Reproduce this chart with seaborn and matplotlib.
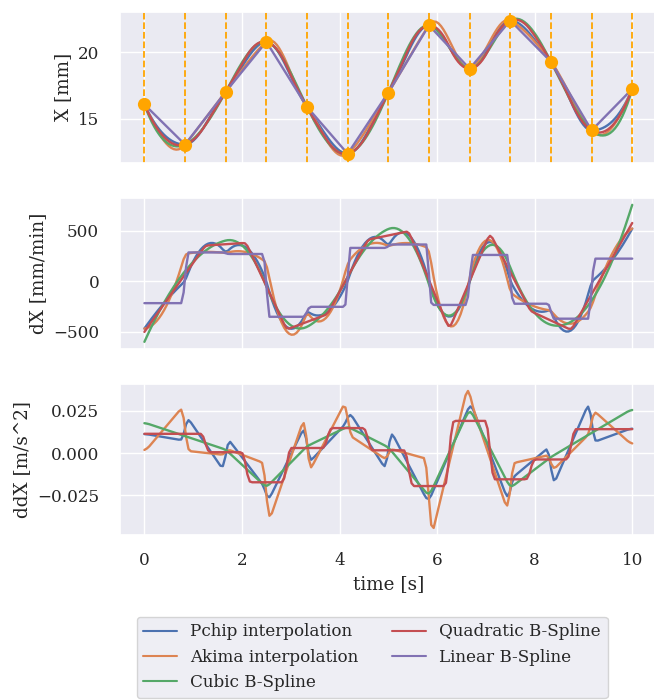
import numpy as np
import pandas as pd
import matplotlib
matplotlib.use("Agg")
import matplotlib.pyplot as plt
import seaborn as sns

# ---------------- data (knots) ----------------
time_s = [0.0, 0.833, 1.667, 2.5, 3.333, 4.167, 5.0, 5.833, 6.667, 7.5, 8.333, 9.167, 10.0]
pos_mm = [16.07, 13.05, 17.03, 20.79, 15.89, 12.36, 16.96, 22.03, 18.76, 22.39, 19.29, 14.12, 17.24]
methods = ["Pchip interpolation", "Akima interpolation", "Cubic B-Spline",
           "Quadratic B-Spline", "Linear B-Spline"]
ylabels = ["X [mm]", "dX [mm/min]", "ddX [m/s^2]"]
xlabel = "time [s]"

xk = np.asarray(time_s, float)
yk = np.asarray(pos_mm, float)
ts = np.linspace(xk[0], xk[-1], 200)


# ---------------- interpolation helpers ----------------
def hermite(xk, yk, dk, xs):
    idx = np.clip(np.searchsorted(xk, xs, side="right") - 1, 0, len(xk) - 2)
    h = xk[idx + 1] - xk[idx]
    s = (xs - xk[idx]) / h
    y0, y1 = yk[idx], yk[idx + 1]
    d0, d1 = dk[idx] * h, dk[idx + 1] * h
    c = 3 * (y1 - y0) - 2 * d0 - d1
    d = 2 * (y0 - y1) + d0 + d1
    return y0 + d0 * s + c * s ** 2 + d * s ** 3


def pchip_slopes(x, y):
    h = np.diff(x)
    m = np.diff(y) / h
    n = len(x)
    d = np.zeros(n)
    for i in range(1, n - 1):
        if m[i - 1] * m[i] <= 0:
            d[i] = 0.0
        else:
            w1 = 2 * h[i] + h[i - 1]
            w2 = h[i] + 2 * h[i - 1]
            d[i] = (w1 + w2) / (w1 / m[i - 1] + w2 / m[i])

    def edge(h0, h1, m0, m1):
        dd = ((2 * h0 + h1) * m0 - h0 * m1) / (h0 + h1)
        if np.sign(dd) != np.sign(m0):
            dd = 0.0
        elif np.sign(m0) != np.sign(m1) and abs(dd) > 3 * abs(m0):
            dd = 3 * m0
        return dd

    d[0] = edge(h[0], h[1], m[0], m[1])
    d[-1] = edge(h[-1], h[-2], m[-1], m[-2])
    return d


def akima_slopes(x, y):
    n = len(x)
    m = np.empty(n + 3)
    m[2:-2] = np.diff(y) / np.diff(x)
    m[1] = 2 * m[2] - m[3]
    m[0] = 2 * m[1] - m[2]
    m[-2] = 2 * m[-3] - m[-4]
    m[-1] = 2 * m[-2] - m[-3]
    t = 0.5 * (m[3:] + m[:-3])
    dm = np.abs(np.diff(m))
    f1 = dm[2:]
    f2 = dm[:-2]
    f12 = f1 + f2
    ind = np.nonzero(f12 > 1e-9 * np.max(f12))[0]
    t[ind] = (f1[ind] * m[ind + 1] + f2[ind] * m[ind + 2]) / f12[ind]
    return t


def basis(xs, t, k):
    xs = np.asarray(xs, float)
    nint = len(t) - 1
    B = np.zeros((len(xs), nint))
    nonempty = [i for i in range(nint) if t[i] < t[i + 1]]
    for i in nonempty:
        B[:, i] = (xs >= t[i]) & (xs < t[i + 1])
    B[xs >= t[-1], nonempty[-1]] = 1.0
    for d in range(1, k + 1):
        Bn = np.zeros((len(xs), nint - d))
        for i in range(nint - d):
            den1 = t[i + d] - t[i]
            den2 = t[i + d + 1] - t[i + 1]
            term = np.zeros(len(xs))
            if den1 > 0:
                term += (xs - t[i]) / den1 * B[:, i]
            if den2 > 0:
                term += (t[i + d + 1] - xs) / den2 * B[:, i + 1]
            Bn[:, i] = term
        B = Bn
    return B


def interp_spline(x, y, k, xs):
    if k == 2:
        mid = (x[1:] + x[:-1]) / 2.0
        t = np.r_[(x[0],) * 3, mid[1:-1], (x[-1],) * 3]
    else:
        m = (k - 1) // 2
        inner = x[m + 1:-m - 1]
        t = np.r_[(x[0],) * (k + 1), inner, (x[-1],) * (k + 1)]
    c = np.linalg.solve(basis(x, t, k), y)
    return basis(xs, t, k) @ c


curves = {
    methods[0]: hermite(xk, yk, pchip_slopes(xk, yk), ts),
    methods[1]: hermite(xk, yk, akima_slopes(xk, yk), ts),
    methods[2]: interp_spline(xk, yk, 3, ts),
    methods[3]: interp_spline(xk, yk, 2, ts),
    methods[4]: interp_spline(xk, yk, 1, ts),
}

rows = []
for name in methods:
    X = curves[name]
    v = np.gradient(X, ts, edge_order=2)          # mm/s
    a = np.gradient(v, ts, edge_order=2)          # mm/s^2
    if name == methods[4]:
        a = np.full_like(a, np.nan)
    rows.append(pd.DataFrame({"time": ts, "method": name,
                              "X": X, "dX": v * 60.0, "ddX": a / 1000.0}))
df = pd.concat(rows, ignore_index=True)
knots = pd.DataFrame({"time": xk, "X": yk})

# ---------------- plotting ----------------
sns.set_theme(context="notebook", style="darkgrid", font="serif", font_scale=1.1)
plt.rcParams["font.family"] = ["DejaVu Serif"]
palette = dict(zip(methods, sns.color_palette("deep", 5)))

fig, axes = plt.subplots(3, 1, sharex=True, figsize=(6.54, 7.0), dpi=100)
fig.subplots_adjust(left=0.1835, right=1.004, top=0.983, bottom=0.236, hspace=0.235)

ax = axes[0]
for tk in xk:
    ax.axvline(tk, color="orange", linestyle="--", linewidth=1.3, zorder=1)
sns.lineplot(data=df, x="time", y="X", hue="method", palette=palette,
             hue_order=methods, estimator=None, sort=False, ax=ax,
             linewidth=1.7, legend=False, zorder=2)
sns.scatterplot(data=knots, x="time", y="X", color="orange", s=90,
                linewidth=0, ax=ax, zorder=5)

sns.lineplot(data=df, x="time", y="dX", hue="method", palette=palette,
             hue_order=methods, estimator=None, sort=False, ax=axes[1],
             linewidth=1.7, legend=False)

d3 = df[df["method"] != methods[4]]
sns.lineplot(data=d3, x="time", y="ddX", hue="method", palette=palette,
             hue_order=methods[:4], estimator=None, sort=False, ax=axes[2],
             linewidth=1.7, legend=False)

for a, lab in zip(axes, ylabels):
    a.set_ylabel(lab)
    a.set_xlabel("")
    a.tick_params(axis="y", pad=9)
    a.tick_params(axis="x", pad=6.5)
axes[1].set_yticks([-500, 0, 500])
axes[2].set_yticks([-0.025, 0.0, 0.025])
axes[2].set_xlabel(xlabel)
axes[2].set_xticks([0, 2, 4, 6, 8, 10])

handles = [plt.Line2D([], [], color=palette[m], linewidth=1.5) for m in methods]
fig.legend(handles, methods, loc="upper center", bbox_to_anchor=(0.569, 0.131),
           ncol=2, frameon=True, columnspacing=2.0)

fig.savefig("out.png", dpi=100)
